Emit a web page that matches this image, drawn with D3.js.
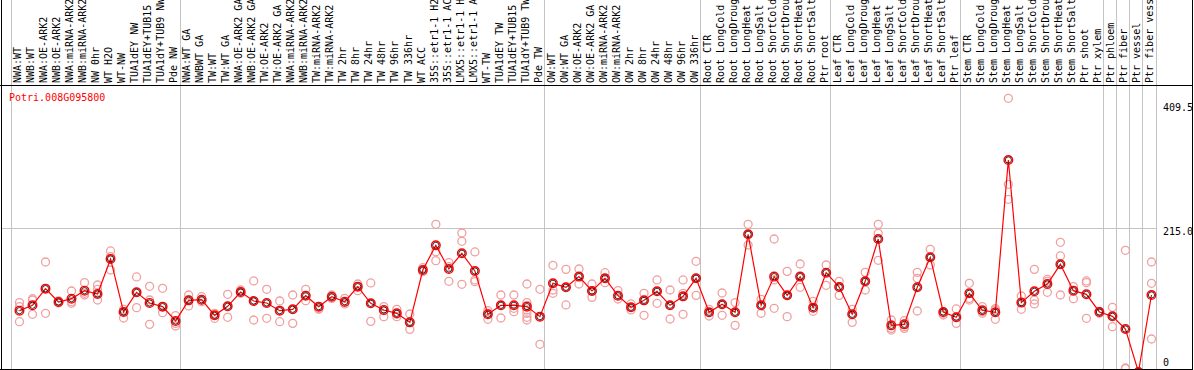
<!DOCTYPE html>
<html><head><meta charset="utf-8">
<script src="https://cdn.jsdelivr.net/npm/d3@7"></script>
<style>
html,body{margin:0;padding:0;background:#fff;}
svg{display:block;}
text{font-family:"DejaVu Sans Mono",monospace;font-size:10px;}
</style></head>
<body>
<svg id="chart" width="1194" height="370"></svg>
<script>
const geneName = "Potri.008G095800";
const categories = [
 "NWA:WT","NWB:WT","NWA:OE-ARK2","NWB:OE-ARK2","NWA:miRNA-ARK2","NWB:miRNA-ARK2","NW 0hr","WT H2O","WT-NW","TUA1dEY NW","TUA1dEY+TUB15 NW","TUA1dY+TUB9 NW","Pde NW",
 "NWA:WT GA","NWBWT GA","TW:WT","TW:WT GA","NWA:OE-ARK2 GA","NWB:OE-ARK2 GA","TW:OE-ARK2","TW:OE-ARK2 GA","NWA:miRNA-ARK2","NWB:miRNA-ARK2","TW:miRNA-ARK2","TW:miRNA-ARK2",
 "TW 2hr","TW 8hr","TW 24hr","TW 48hr","TW 96hr","TW 336hr","WT ACC","35S::etr1-1 H2O","35S::etr1-1 ACC","LMX5::etr1-1 H2O","LMX5::etr1-1 ACC","WT-TW","TUA1dEY TW","TUA1dEY+TUB15 TW","TUA1dY+TUB9 TW","Pde TW",
 "OW:WT","OW:WT GA","OW:OE-ARK2","OW:OE-ARK2 GA","OW:miRNA-ARK2","OW:miRNA-ARK2","OW 2hr","OW 8hr","OW 24hr","OW 48hr","OW 96hr","OW 336hr",
 "Root CTR","Root LongCold","Root LongDrought","Root LongHeat","Root LongSalt","Root ShortCold","Root ShortDrought","Root ShortHeat","Root ShortSalt","Ptr root",
 "Leaf CTR","Leaf LongCold","Leaf LongDrought","Leaf LongHeat","Leaf LongSalt","Leaf ShortCold","Leaf ShortDrought","Leaf ShortHeat","Leaf ShortSalt","Ptr leaf",
 "Stem CTR","Stem LongCold","Stem LongDrought","Stem LongHeat","Stem LongSalt","Stem ShortCold","Stem ShortDrought","Stem ShortHeat","Stem ShortSalt","Ptr shoot",
 "Ptr xylem","Ptr phloem","Ptr fiber","Ptr vessel","Ptr fiber vessel"
];
// group boundaries (column indices where a separator is drawn)
const groupBreaks = [0,13,41,53,63,73,84,85,86,87,88];
const means = [
 91.8,99.8,124.7,104.7,109.7,121.7,116.7,169.1,89.8,119.2,103.3,97.8,76.3,
 107.2,108.2,84.8,98.3,119.7,106.2,103.3,91.8,93.8,114.2,97.8,112.7,105.2,127.7,102.8,92.8,87.8,74.3,152.6,189.5,154.1,177.6,151.1,86.3,99.8,99.8,97.8,82.8,
 132.7,126.7,142.7,121.2,140.2,114.2,96.8,107.2,120.7,99.8,113.2,140.2,
 89.3,101.3,89.3,206.0,99.8,142.7,114.7,142.7,96.3,148.6,
 127.2,86.3,135.7,199.0,69.8,71.3,126.7,171.6,89.8,81.8,
 117.7,92.3,89.3,317.2,103.8,120.7,131.7,161.1,121.7,116.2,
 89.8,83.3,64.3,0,115.2
];
const replicates = [
 [103.8,97.8,75.3],[109.7,107.7,86.3],[164.6,124.7,87.8],[106.2,104.7,103.3],[121.2,105.2,102.8],[133.7,117.7,115.2],[130.2,123.7,107.7],[181.1,172.6,152.6],[93.8,90.3,80.8],[142.2,119.2,96.3],[128.2,107.7,71.3],[125.2,97.8,88.8],[84.3,72.8,68.8],
 [115.2,107.7,98.8],[112.7,107.7,105.2],[87.8,84.8,80.3],[116.2,98.3,81.8],[122.7,119.7,117.7],[136.2,106.2,77.8],[123.7,103.3,80.3],[106.2,91.8,75.3],[115.2,93.8,72.8],[123.7,114.2,106.7],[97.8,94.8,93.8],[115.2,112.7,110.2],[110.2,103.8,101.8],[131.7,127.7,121.7],[133.2,102.8,75.8],[97.8,91.8,82.8],[93.8,86.3,82.8],[86.8,74.3,63.8],[156.1,152.6,150.1],[221.0,180.1,166.6],[163.6,157.6,135.7],[208.0,195.5,131.2],[179.6,137.7,135.2],[91.8,87.8,78.8],[115.2,99.8,80.8],[115.2,95.3,90.3],[131.7,103.8,99.8,92.8,87.8,81.8,77.8],[123.7,82.8,41.4],
 [159.6,122.7,117.7],[153.6,126.7,100.3],[154.1,142.7,131.7],[131.7,121.2,111.7],[148.6,140.2,133.7],[121.7,114.2,109.2],[101.8,96.8,92.8],[117.7,107.2,84.8],[137.7,120.7,102.8],[122.7,99.8,79.3],[137.7,117.7,86.3],[165.6,140.2,114.7],
 [93.8,89.3,83.8],[118.2,101.3,84.8],[103.8,89.3,69.8],[221.0,206.0,190.0],[108.7,99.8,87.8],[199.0,137.7,95.3],[150.6,114.7,82.8],[161.6,142.7,126.7],[105.7,96.3,90.8],[160.1,148.6,129.7],
 [135.7,127.2,114.7],[93.8,86.3,74.3],[149.1,135.7,122.7],[221.0,207.5,167.1],[77.8,65.3,62.8],[76.8,67.8,65.3],[149.1,140.2,91.3],[183.6,171.6,160.1],[89.8,87.8,85.3],[94.3,81.8,72.8],
 [132.7,110.2,107.7],[97.8,90.3,87.8],[94.8,92.8,78.8],[409.5,280.8,258.4],[113.7,103.8,93.8],[153.6,107.7,101.8],[138.7,135.7,119.2],[194.0,173.6,115.2],[127.7,121.7,109.7],[136.2,133.7,80.3],
 [90.8,89.8,87.8],[96.8,83.3,67.8],[182.1,6.0,5.0],[0,0,0],[164.6,132.7,49.4]
];
const yTickValues = [409.5, 215.0, 0];
const yGridValues = [215.0];
const yMax = 429.4;

const W = 1194, H = 370;
const svg = d3.select("#chart");
const headerY = 85.5, bottomY = 369.5, leftX = 1.5, rightX = 1192.5;

const x = d3.scaleLinear().domain([0, categories.length]).range([10.5, 1155.5]);
const y = d3.scaleLinear().domain([0, yMax]).range([372, 85]);
const px = i => x(i + 0.69);

// vertical gray separators
svg.append("g").selectAll("line").data(groupBreaks).join("line")
  .attr("x1", d => Math.round(x(d)) + 0.5).attr("x2", d => Math.round(x(d)) + 0.5)
  .attr("y1", 0).attr("y2", bottomY)
  .attr("stroke", "#c4c4c4").attr("stroke-width", 1);

// horizontal grid
svg.append("g").selectAll("line").data(yGridValues).join("line")
  .attr("x1", leftX).attr("x2", Math.round(x(categories.length)) + 0.5)
  .attr("y1", d => Math.round(y(d)) + 0.5).attr("y2", d => Math.round(y(d)) + 0.5)
  .attr("stroke", "#c4c4c4").attr("stroke-width", 1);

// header labels
svg.append("g").selectAll("text").data(categories).join("text")
  .attr("transform", (d, i) => `translate(${x(i + 0.82)},83) rotate(-90)`)
  .attr("text-anchor", "start")
  .attr("fill", "#000")
  .text(d => d);

// frame
svg.append("line").attr("x1", 0).attr("x2", rightX).attr("y1", headerY).attr("y2", headerY).attr("stroke", "#000");
svg.append("line").attr("x1", leftX).attr("x2", leftX).attr("y1", 0).attr("y2", H).attr("stroke", "#000");
svg.append("line").attr("x1", rightX).attr("x2", rightX).attr("y1", 0).attr("y2", H).attr("stroke", "#000");

// plot clip
svg.append("defs").append("clipPath").attr("id", "plotclip").append("rect")
  .attr("x", leftX).attr("y", headerY).attr("width", rightX - leftX).attr("height", bottomY - headerY);
const plot = svg.append("g").attr("clip-path", "url(#plotclip)");

// replicate circles
const repPts = [];
replicates.forEach((arr, i) => arr.forEach(v => repPts.push({i, v})));
plot.append("g").selectAll("circle").data(repPts).join("circle")
  .attr("cx", d => px(d.i)).attr("cy", d => y(d.v)).attr("r", 4)
  .attr("fill", "none").attr("stroke", "#f0a0a0").attr("stroke-width", 1.3);

// mean line
plot.append("path").datum(means)
  .attr("d", d3.line().x((d, i) => px(i)).y(d => y(d)))
  .attr("fill", "none").attr("stroke", "#ff0000").attr("stroke-width", 1.2);

// mean markers
const mg = plot.append("g").selectAll("g").data(means).join("g");
mg.append("circle").attr("cx", (d, i) => px(i)).attr("cy", d => y(d)).attr("r", 4.3)
  .attr("fill", "none").attr("stroke", "#ff0000").attr("stroke-width", 1.4);
mg.append("circle").attr("cx", (d, i) => px(i)).attr("cy", d => y(d)).attr("r", 3.1)
  .attr("fill", "none").attr("stroke", "#000").attr("stroke-width", 0.8);

// bottom border
svg.append("line").attr("x1", 0).attr("x2", rightX).attr("y1", bottomY).attr("y2", bottomY).attr("stroke", "#000");

// gene label
svg.append("text").attr("x", 9).attr("y", 101).attr("fill", "#ff0000").text(geneName);

// right axis labels
svg.append("g").selectAll("text").data(yTickValues).join("text")
  .attr("x", 1163)
  .attr("y", d => Math.max(110.5, Math.min(365.5, y(d) + 7)))
  .attr("fill", "#000")
  .text(d => d === 0 ? "0" : d.toFixed(1));
</script>
</body></html>
